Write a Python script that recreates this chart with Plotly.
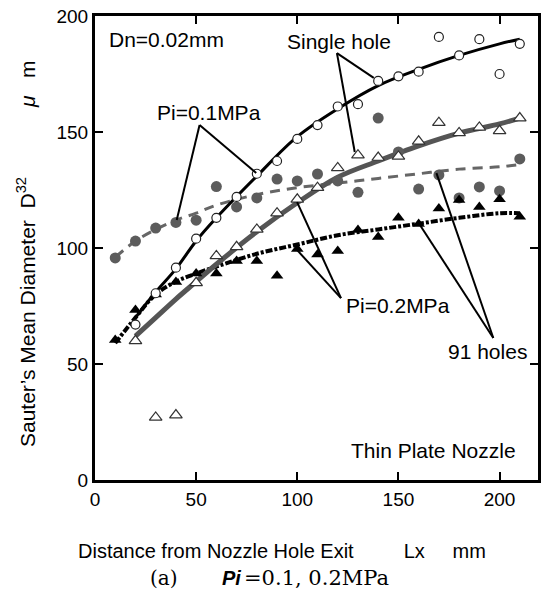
import plotly.graph_objects as go

# ---------------- data ----------------
# Single hole, Pi = 0.1 MPa (open circles)
x_sh01 = [20, 30, 40, 50, 60, 70, 80, 90, 100, 110, 120, 130, 140, 150, 160, 170, 180, 190, 200, 210]
y_sh01 = [67, 80.5, 91.5, 104, 113, 122, 132, 137.5, 147, 153, 161, 162, 172, 174, 176, 191, 183, 190, 175, 188]
# Single hole, Pi = 0.2 MPa (open triangles)
x_sh02 = [20, 30, 40, 50, 60, 70, 80, 90, 100, 110, 120, 130, 140, 150, 160, 170, 180, 190, 200, 210]
y_sh02 = [60, 27, 28, 85, 96.6, 100.5, 108, 115, 121, 126, 134.5, 140, 139, 139.5, 146, 154, 149.6, 152, 150.5, 156]
# 91 holes, Pi = 0.1 MPa (grey filled circles)
x_h01 = [10, 20, 30, 40, 50, 60, 70, 80, 90, 100, 110, 120, 130, 140, 150, 160, 170, 180, 190, 200, 210]
y_h01 = [95.7, 103, 108.6, 111, 112, 126.5, 117.7, 121.6, 129.7, 128.9, 131.9, 128.9, 124, 156, 141.4,
         125.4, 131.5, 121.6, 126.3, 124.6, 138.4]
# 91 holes, Pi = 0.2 MPa (black filled triangles)
x_h02 = [10, 20, 30, 40, 50, 60, 70, 80, 90, 100, 110, 120, 130, 140, 150, 160, 170, 180, 190, 200, 210]
y_h02 = [60.3, 73.3, 80, 85.3, 89, 89, 94.4, 94.4, 88, 99.6, 97.2, 98.7, 107.8, 104.7, 113, 110.3,
         117, 120.7, 117.7, 121, 113.5]

# fitted curves
xf_sh01 = [20, 30, 40, 50, 60, 80, 100, 120, 140, 160, 180, 200, 210]
yf_sh01 = [70, 81, 91, 103, 113, 131, 148, 160, 170, 177, 183, 188, 190]
xf_sh02 = [20, 30, 40, 50, 60, 80, 100, 120, 140, 160, 180, 200, 210]
yf_sh02 = [62, 70, 78, 85.5, 93, 107, 119.5, 130.5, 137.5, 144, 149.5, 153.5, 156]
xf_h01 = [10, 20, 30, 40, 50, 60, 80, 100, 120, 140, 160, 180, 200, 210]
yf_h01 = [96, 103, 108, 112, 115, 118.5, 123, 126, 128, 130, 132, 134, 135, 136]
xf_h02 = [10, 20, 30, 40, 50, 60, 80, 100, 120, 140, 160, 180, 200, 210]
yf_h02 = [59, 70, 80, 85.5, 89, 92, 97.5, 101.5, 105.5, 108, 110.5, 113, 115, 115]

x_ticks = [0, 50, 100, 150, 200]
y_ticks = [0, 50, 100, 150, 200]

GREY = "#5c5c5c"
SANS = "Liberation Sans, Arial, sans-serif"
SERIF = "DejaVu Serif, Liberation Serif, serif"

fig = go.Figure()

# ---- fitted lines (under markers) ----
fig.add_trace(go.Scatter(x=xf_h01, y=yf_h01, mode="lines", line=dict(color="#666666", width=3, dash="10px,7px", shape="spline"), showlegend=False))
fig.add_trace(go.Scatter(x=xf_h02, y=yf_h02, mode="lines", line=dict(color="black", width=4, dash="7px,2px,3px,2px", shape="spline"), showlegend=False))
fig.add_trace(go.Scatter(x=xf_sh02, y=yf_sh02, mode="lines", line=dict(color="#555555", width=5, shape="spline"), showlegend=False))
fig.add_trace(go.Scatter(x=xf_sh01, y=yf_sh01, mode="lines", line=dict(color="black", width=3, shape="spline"), showlegend=False))

# ---- markers ----
fig.add_trace(go.Scatter(x=x_h01, y=y_h01, mode="markers",
                         marker=dict(symbol="circle", size=11, color=GREY, line=dict(width=0)), showlegend=False))
fig.add_trace(go.Scatter(x=x_h02, y=y_h02, mode="markers",
                         marker=dict(symbol="triangle-up", size=11, color="black", line=dict(width=0)), showlegend=False))
fig.add_trace(go.Scatter(x=x_sh02, y=y_sh02, mode="markers",
                         marker=dict(symbol="triangle-up", size=11, color="white", line=dict(width=1.2, color="#333333")), showlegend=False))
fig.add_trace(go.Scatter(x=x_sh01, y=y_sh01, mode="markers",
                         marker=dict(symbol="circle", size=9, color="white", line=dict(width=1.2, color="#222222")), showlegend=False))

# ---- leader lines ----
leaders = [
    ((51.7, 153), (40.4, 112.1)), ((51.7, 153), (79.7, 132.3)),
    ((119.6, 184), (137.8, 173.3)), ((119.6, 184), (128.4, 141.4)),
    ((121.6, 78.4), (99.9, 119.8)), ((121.6, 78.4), (99.4, 99.6)),
    ((196.9, 61.2), (168.8, 132.3)), ((196.9, 61.2), (160, 110.8)),
]
for (a, b) in leaders:
    fig.add_shape(type="line", xref="x", yref="y", x0=a[0], y0=a[1], x1=b[0], y1=b[1],
                  line=dict(color="black", width=2))

ann_font = dict(family=SANS, size=21, color="black")
notes = [
    ("Dn=0.02mm", 5.9, 190, "left"),
    ("Single hole", 120.6, 189.2, "center"),
    ("Pi=0.1MPa", 56.6, 158.6, "center"),
    ("Pi=0.2MPa", 150, 75.4, "center"),
    ("91 holes", 193.9, 55.2, "center"),
    ("Thin Plate Nozzle", 167.3, 12.9, "center"),
]
for t, x, y, xa in notes:
    fig.add_annotation(text=t, x=x, y=y, xref="x", yref="y", xanchor=xa, yanchor="middle",
                       showarrow=False, font=ann_font)

# axis titles / caption
NB = "\u00a0"
fig.add_annotation(text="Distance from Nozzle Hole Exit" + NB * 9 + "Lx" + NB * 5 + "mm",
                   x=0.4215, y=-0.153, xref="paper", yref="paper", showarrow=False,
                   xanchor="center", yanchor="middle", font=dict(family=SANS, size=20, color="black"))
fig.add_annotation(text="Sauter\u2019s Mean Diameter" + NB * 2 + "D<sup>32</sup>" + NB * 12 + "<i>\u03bc</i>" + NB * 3 + "m",
                   x=-0.157, y=0.488, xref="paper", yref="paper", showarrow=False, textangle=-90,
                   xanchor="center", yanchor="middle", font=dict(family=SANS, size=21, color="black"))
fig.add_annotation(text="(a)", x=0.1547, y=-0.211, xref="paper", yref="paper", showarrow=False,
                   xanchor="center", yanchor="middle", font=dict(family=SERIF, size=20, color="black"))
fig.add_annotation(text="<b><i>Pi</i></b>", x=0.307, y=-0.211, xref="paper", yref="paper", showarrow=False,
                   xanchor="center", yanchor="middle", font=dict(family=SANS, size=20, color="black"))
fig.add_annotation(text="=0.1, 0.2MPa", x=0.332, y=-0.211, xref="paper", yref="paper", showarrow=False,
                   xanchor="left", yanchor="middle", font=dict(family=SERIF, size=21, color="black"))

axis_common = dict(showgrid=False, zeroline=False, showline=True, linewidth=3, linecolor="black",
                   mirror="ticks", ticks="inside", ticklen=8, tickwidth=2, tickcolor="black",
                   tickfont=dict(family=SANS, size=19, color="black"))
fig.update_xaxes(range=[0, 219], tickvals=x_ticks, ticktext=[str(v) for v in x_ticks], **axis_common)
fig.update_yaxes(range=[0, 200], tickvals=y_ticks, ticktext=[str(v) for v in y_ticks], **axis_common)

fig.update_layout(width=545, height=592, margin=dict(l=95, r=4, t=16, b=112),
                  paper_bgcolor="white", plot_bgcolor="white", showlegend=False)

fig.write_html("out.html")
